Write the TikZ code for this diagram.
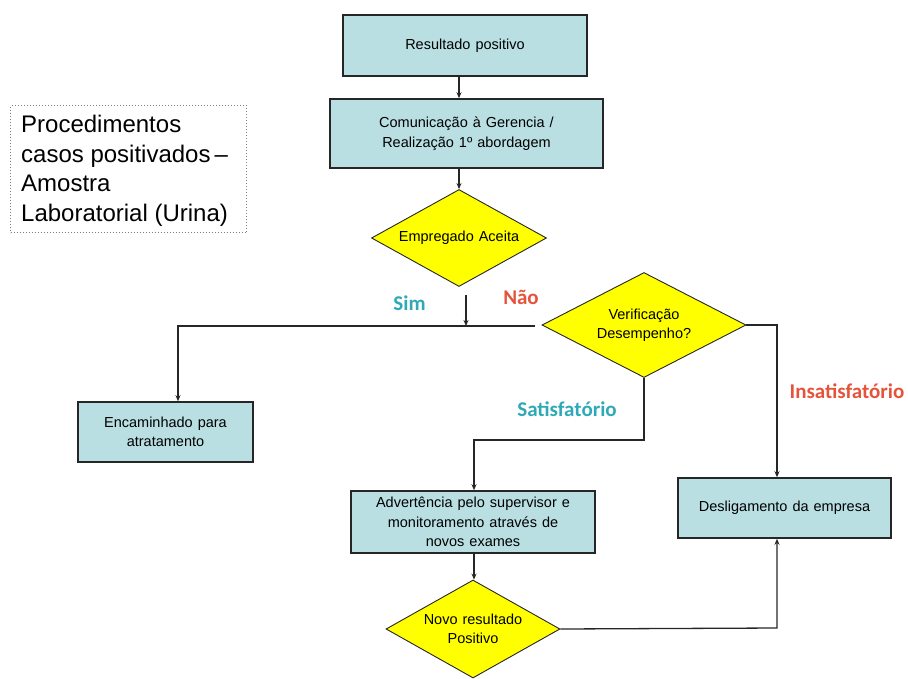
\documentclass[tikz,border=0pt]{standalone}
\usepackage{fontspec}
\setmainfont{Liberation Sans}
\newfontfamily\labelfont{Carlito}
\usetikzlibrary{shapes.geometric,arrows.meta,calc}
\definecolor{boxfill}{HTML}{B9DFE3}
\definecolor{yescol}{HTML}{2FA9B7}
\definecolor{nocol}{HTML}{E5533B}
\definecolor{edgecol}{HTML}{262626}
\definecolor{decfill}{HTML}{FFFF00}
% slightly wider word gaps inside the flowchart shapes
\newcommand\flowfont{\fontsize{14.5}{19.5}\selectfont\spaceskip=5pt plus 1pt\relax}

\begin{document}
\begin{tikzpicture}[x=1pt,y=-1pt,
  procbox/.style={rectangle,draw=edgecol,line width=1.6pt,fill=boxfill,inner sep=0pt,
    align=center,font=\flowfont},
  decision/.style={diamond,draw=edgecol,line width=0.9pt,fill=decfill,inner sep=0pt,
    aspect=1.8,align=center,font=\flowfont},
  flow/.style={draw=edgecol,line width=1.3pt},
  arrowflow/.style={flow,-{Stealth[length=6pt,width=5pt]}},
  yeslabel/.style={text=yescol,font=\labelfont\bfseries\fontsize{21}{24}\selectfont},
  nolabel/.style={text=nocol,font=\labelfont\bfseries\fontsize{21}{24}\selectfont}]
\useasboundingbox (0,0) rectangle (908,678);

% title box
\node[draw=gray,dotted,line width=1pt,minimum width=236pt,minimum height=127pt,
  anchor=north west,inner sep=0pt] (titlebox) at (10,105) {};
\node[anchor=north west,inner sep=0pt,align=left,
  font=\fontsize{24}{29.5}\selectfont] (titletext) at (21,115)
  {Procedimentos\\casos positivados\,--\\Amostra\\Laboratorial (Urina)};

% process boxes
\node[procbox,minimum width=244pt,minimum height=61pt] (res) at (465,45.5) {Resultado positivo};
\node[procbox,minimum width=273pt,minimum height=69pt] (com) at (466.5,133.5)
  {Comunicação à Gerencia /\\Realização 1º abordagem};
\node[procbox,minimum width=175pt,minimum height=60pt] (enc) at (165.5,432)
  {Encaminhado para\\atratamento};
\node[procbox,minimum width=244pt,minimum height=62pt] (adv) at (473,522)
  {Advertência pelo supervisor e\\monitoramento através de\\novos exames};
\node[procbox,minimum width=213pt,minimum height=60pt] (des) at (784.5,508)
  {Desligamento da empresa};

% decisions
\node[decision,minimum width=175pt,minimum height=97pt] (emp) at (459,238) {Empregado Aceita};
\node[decision,minimum width=204pt,minimum height=105pt] (ver) at (644,325)
  {Verificação\\Desempenho?};
\node[decision,minimum width=174pt,minimum height=98pt] (novo) at (473,629)
  {Novo resultado\\Positivo};

% junction points
\coordinate (simtop) at (466,295);
\coordinate (junc) at (466,326);
\coordinate (vleft) at (535,326);
\coordinate (cornerL) at (178,326);
\coordinate (cornerR) at (777,325);
\coordinate (cornerS) at (474,440);
\coordinate (cornerN) at (777,628);

% connectors
\draw[arrowflow] (res.south -| emp.north) -- (com.north -| emp.north);
\draw[arrowflow] (com.south -| emp.north) -- (emp.north);
\draw[arrowflow] (simtop) -- (junc);
\draw[arrowflow] (vleft) -- (cornerL) -- (cornerL |- enc.north);
\draw[arrowflow] (ver.east) -- (cornerR) -- (cornerR |- des.north);
\draw[arrowflow] (ver.south) |- (cornerS) -- (cornerS |- adv.north);
\draw[arrowflow] (adv.south -| cornerS) -- (novo.north -| cornerS);
\draw[arrowflow] (novo.east) -- (cornerN) -- (cornerN |- des.south);

% branch labels
\node[yeslabel] (sim) at (409.5,303) {Sim};
\node[nolabel] (nao) at (521,297) {Não};
\node[yeslabel] (sat) at (567,409) {Satisfatório};
\node[nolabel] (insat) at (847,391) {Insatisfatório};
\end{tikzpicture}
\end{document}
